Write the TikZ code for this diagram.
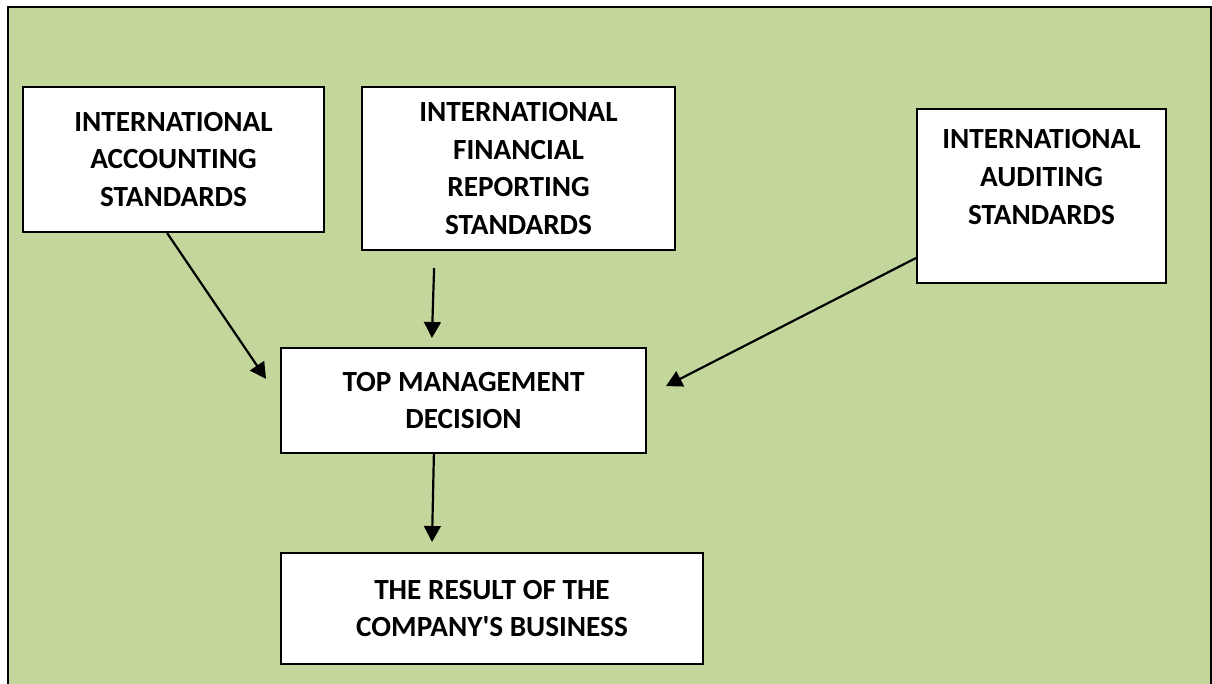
\documentclass[tikz,border=0pt]{standalone}
\usepackage{fontspec}
\setmainfont{Carlito}
\usepackage{xcolor}
\usepackage{tikz}
\usetikzlibrary{arrows.meta,positioning,calc}
\definecolor{chartgreen}{HTML}{C3D69B}

\begin{document}
\begin{tikzpicture}[
  x=0.25mm, y=-0.25mm,
  >={Triangle[length=4mm,width=4.2mm]},
  font=\bfseries\fontsize{20.8}{27}\selectfont,
  stdbox/.style={
    draw=black,
    line width=0.5mm,
    fill=white,
    inner sep=2pt,
    align=center
  },
  edge/.style={->,line width=0.55mm}
]
\useasboundingbox (0,0) rectangle (1212,684);
\fill[chartgreen] (8,7) rectangle (1211,684);
\draw[line width=0.5mm] (7.5,684) -- (7.5,7) -- (1211,7) -- (1211,684);

\node[stdbox,minimum width=75.25mm,minimum height=36.25mm] (ias) at (173.5,159.5) {INTERNATIONAL\\ACCOUNTING\\STANDARDS};
\node[stdbox,minimum width=78.25mm,minimum height=40.75mm] (ifrs) at (518.5,168.5) {INTERNATIONAL\\FINANCIAL\\REPORTING\\STANDARDS};
\node[stdbox,minimum width=62.25mm,minimum height=43.5mm] (iaus) at (1041.5,196) {INTERNATIONAL\\AUDITING\\STANDARDS\\\mbox{}};

\node[stdbox,minimum width=91.25mm,minimum height=26.25mm] (top) at (463.5,400.5) {TOP MANAGEMENT\\DECISION};
\node[stdbox,minimum width=105.5mm,minimum height=27.75mm] (result) at (492,608.5) {THE RESULT OF THE\\COMPANY\textquotesingle S BUSINESS};

\draw[edge] ([xshift=-1.6mm]ias.south) -- ([xshift=-3.5mm,yshift=5.4mm]top.west);
\draw[edge] ([xshift=-21.1mm,yshift=-4.25mm]ifrs.south) -- ([xshift=-7.9mm,yshift=2.25mm]top.north);
\draw[edge] ([yshift=-15.5mm]iaus.west) -- ([xshift=4.75mm,yshift=3.6mm]top.east);
\draw[edge] ([xshift=-7.4mm]top.south) -- ([xshift=-15mm,yshift=2.5mm]result.north);
\end{tikzpicture}
\end{document}
